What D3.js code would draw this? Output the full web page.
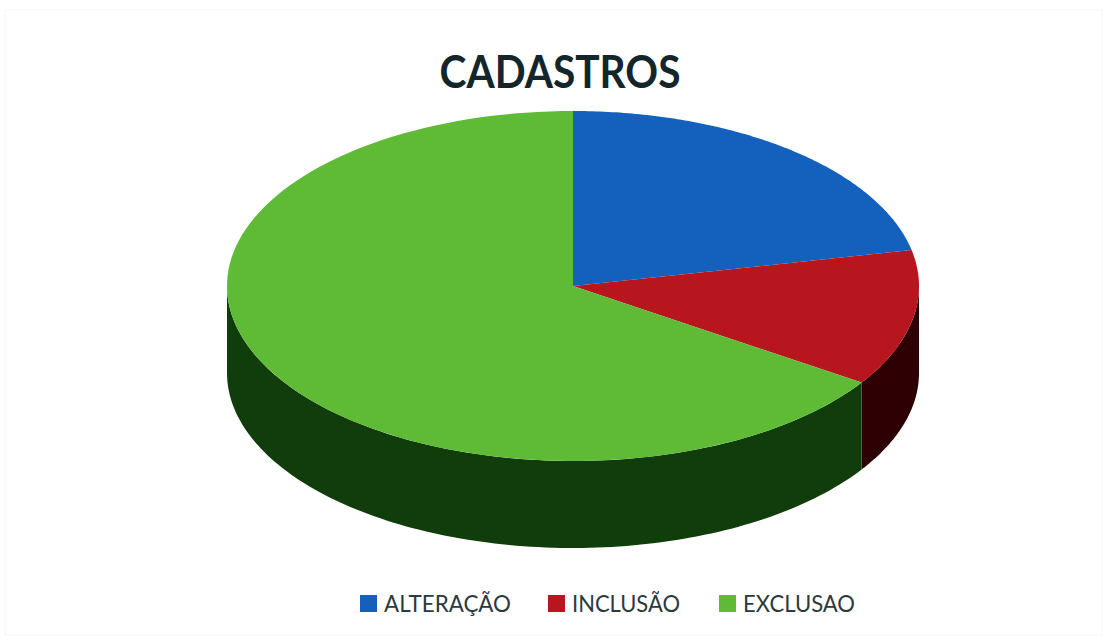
<!DOCTYPE html>
<html><head><meta charset="utf-8">
<script src="https://cdn.jsdelivr.net/npm/d3@7"></script>
<style>html,body{margin:0;padding:0;background:#fff}svg{display:block}</style></head>
<body><svg id="c" width="1107" height="642"></svg>
<script>
const title = "CADASTROS";
const categories = ["ALTERAÇÃO","INCLUSÃO","EXCLUSAO"];
const values = [21.7, 12.6, 65.7];
const colors = ["#1460bd","#b8161f","#5fbb35"];
const sideColors = ["#0a2f5e","#2e0004","#113c0c"];
const legendWidths = [127,108,112];
const legendX = [360,548,719];
const cx=573,cy=286,rx=346,ry=175,depth=87;
const svg=d3.select("#c");
svg.append("rect").attr("x",5).attr("y",10).attr("width",1097).attr("height",625).attr("fill","#fff").attr("stroke","#f5f6f6");
svg.append("text").attr("x",560).attr("y",88).attr("text-anchor","middle").attr("font-family","Lato, Open Sans").attr("font-weight",700).attr("font-size",46).attr("fill","#13262b").attr("textLength",241).attr("lengthAdjust","spacingAndGlyphs").text(title);
const arcs=d3.pie().sort(null)(values);
const px=a=>cx+rx*Math.sin(a), py=a=>cy-ry*Math.cos(a);
function topPath(a0,a1){
  let d=`M${cx},${cy}L${px(a0)},${py(a0)}`;
  const n=120;
  for(let i=1;i<=n;i++){const a=a0+(a1-a0)*i/n;d+=`L${px(a)},${py(a)}`;}
  return d+"Z";
}
function sidePath(a0,a1){
  const s=Math.max(a0,Math.PI/2), e=Math.min(a1,Math.PI*1.5);
  if(s>=e) return null;
  const n=120;let top="",bot="";
  for(let i=0;i<=n;i++){const a=s+(e-s)*i/n;top+=(i?"L":"M")+px(a)+","+py(a);}
  for(let i=n;i>=0;i--){const a=s+(e-s)*i/n;bot+="L"+px(a)+","+(py(a)+depth);}
  return top+bot+"Z";
}
const g=svg.append("g");
arcs.forEach((d,i)=>{const p=sidePath(d.startAngle,d.endAngle);if(p)g.append("path").attr("d",p).attr("fill",sideColors[i]);});
arcs.forEach((d,i)=>g.append("path").attr("d",topPath(d.startAngle,d.endAngle)).attr("fill",colors[i]));
categories.forEach((c,i)=>{
  const l=svg.append("g").attr("transform",`translate(${legendX[i]},595)`);
  l.append("rect").attr("width",17).attr("height",17).attr("fill",colors[i]);
  l.append("text").attr("x",24).attr("y",17).attr("font-family","Lato, Open Sans").attr("font-size",24).attr("fill","#2c3a40").attr("textLength",legendWidths[i]).attr("lengthAdjust","spacingAndGlyphs").text(c);
});
</script></body></html>
